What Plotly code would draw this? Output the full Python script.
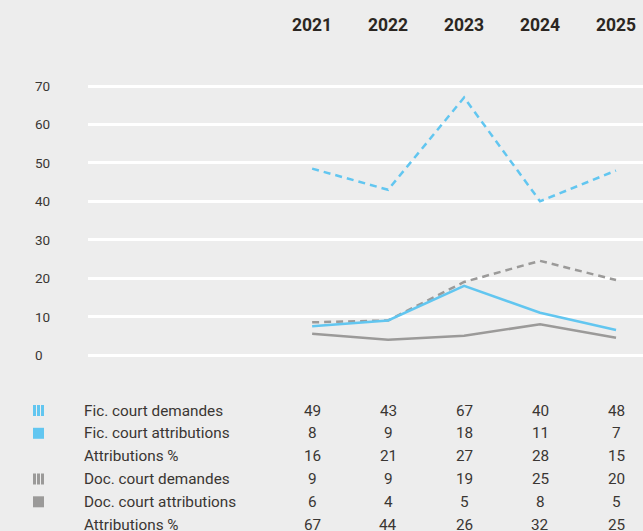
import plotly.graph_objects as go

years = [2021, 2022, 2023, 2024, 2025]
fic_demandes = [49, 43, 67, 40, 48]
fic_attrib = [8, 9, 18, 11, 7]
fic_pct = [16, 21, 27, 28, 15]
doc_demandes = [9, 9, 19, 25, 20]
doc_attrib = [6, 4, 5, 8, 5]
doc_pct = [67, 44, 26, 32, 25]

# line values
fic_demandes_line = [48.5, 43, 67, 40, 48]
fic_attrib_line = [7.5, 9, 18, 11, 6.5]
doc_demandes_line = [8.5, 9, 19, 24.5, 19.5]
doc_attrib_line = [5.5, 4, 5, 8, 4.5]

row_labels = ["Fic. court demandes", "Fic. court attributions", "Attributions %",
              "Doc. court demandes", "Doc. court attributions", "Attributions %"]
row_values = [fic_demandes, fic_attrib, fic_pct, doc_demandes, doc_attrib, doc_pct]
yticks = [0, 10, 20, 30, 40, 50, 60, 70]

W, H = 643, 531
BG = "#ededed"
BLUE = "#62c6f0"
GRAY = "#9b9a99"
TXT = "#3a3633"
FONT = "Roboto"

fig = go.Figure()
fig.add_trace(go.Scatter(x=years, y=fic_demandes_line, mode="lines",
                         line=dict(color=BLUE, width=2.5, dash="7px,5px")))
fig.add_trace(go.Scatter(x=years, y=doc_demandes_line, mode="lines",
                         line=dict(color=GRAY, width=2.5, dash="7px,5px")))
fig.add_trace(go.Scatter(x=years, y=doc_attrib_line, mode="lines",
                         line=dict(color=GRAY, width=2.5)))
fig.add_trace(go.Scatter(x=years, y=fic_attrib_line, mode="lines",
                         line=dict(color=BLUE, width=2.5)))

def px(x):
    return x / W

def py(y):
    return 1 - y / H

ann = []
# y tick labels, left aligned
for t in yticks:
    ann.append(dict(x=px(33), xref="paper", y=t, yref="y", text=str(t),
                    showarrow=False, xanchor="left", yanchor="middle",
                    font=dict(family=FONT, size=13.5, color=TXT)))
# years at top
for yr in years:
    ann.append(dict(x=yr, xref="x", y=py(25), yref="paper", text="<b>%d</b>" % yr,
                    showarrow=False, xanchor="center", yanchor="middle",
                    font=dict(family=FONT, size=17.5, color="#2b2622")))
# table
row_y = [410.5, 433.3, 456.2, 479, 501.8, 524.6]
for lab, vals, ry in zip(row_labels, row_values, row_y):
    ann.append(dict(x=px(82), xref="paper", y=py(ry), yref="paper", text=lab,
                    showarrow=False, xanchor="left", yanchor="middle",
                    font=dict(family=FONT, size=15.3, color=TXT)))
    for yr, v in zip(years, vals):
        ann.append(dict(x=yr, xref="x", y=py(ry), yref="paper", text=str(v),
                        showarrow=False, xanchor="center", yanchor="middle",
                        font=dict(family=FONT, size=15.3, color=TXT)))

shapes = []
def sym(ry, color, striped):
    y0, y1 = py(ry - 5.5), py(ry + 5.5)
    if striped:
        for x0 in (33, 37, 41):
            shapes.append(dict(type="rect", xref="paper", yref="paper",
                               x0=px(x0), x1=px(x0 + 3), y0=y0, y1=y1,
                               fillcolor=color, line=dict(width=0)))
    else:
        shapes.append(dict(type="rect", xref="paper", yref="paper",
                           x0=px(33), x1=px(44), y0=y0, y1=y1,
                           fillcolor=color, line=dict(width=0)))
sym(row_y[0], BLUE, True)
sym(row_y[1], BLUE, False)
sym(row_y[3], GRAY, True)
sym(row_y[4], GRAY, False)

fig.update_layout(
    width=W, height=H,
    margin=dict(l=0, r=0, t=0, b=0),
    paper_bgcolor=BG, plot_bgcolor=BG,
    showlegend=False,
    xaxis=dict(domain=[88 / W, 1], range=[2018.05, 2025.355], showgrid=False,
               showticklabels=False, zeroline=False, fixedrange=True),
    yaxis=dict(domain=[py(361), py(80)], range=[-1.56, 71.56], tickvals=yticks,
               showticklabels=False, gridcolor="#ffffff", gridwidth=2.5,
               zeroline=False, fixedrange=True),
    annotations=ann, shapes=shapes,
)

fig.write_html("out.html", config={"displayModeBar": False},
               post_script="document.body.style.margin='0';document.body.style.background='%s';" % BG)
